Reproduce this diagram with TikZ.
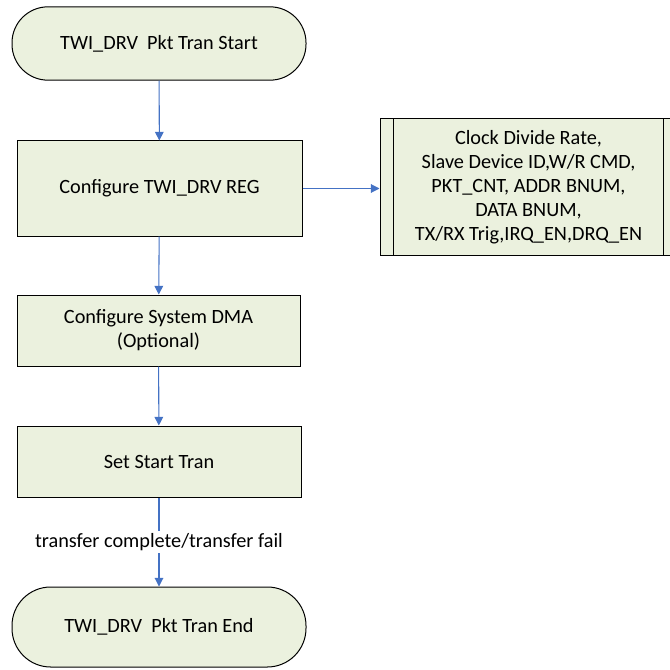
\documentclass[tikz,border=0pt]{standalone}
\usepackage{fontspec}
\setmainfont{Carlito}
\usetikzlibrary{arrows.meta}
\definecolor{boxfill}{HTML}{EBF1DE}
\definecolor{flowblue}{HTML}{4472C4}

\begin{document}
\begin{tikzpicture}[x=0.75pt, y=-0.75pt,
  every node/.style={font=\fontsize{15.2}{18}\selectfont},
  termbox/.style={draw, fill=boxfill, line width=0.75pt, minimum width=220.5pt},
  procbox/.style={draw, fill=boxfill, line width=0.75pt, align=center, inner sep=0pt},
  flowarrow/.style={flowblue, line width=0.8pt, -{Triangle[width=6.5pt,length=6.5pt]}}]
  \useasboundingbox (0,0) rectangle (670,670);
  % main column
  \node[termbox, rounded corners=27pt, minimum height=55pt] (start) at (159,43.5) {TWI\_DRV\ \ Pkt Tran Start};
  \node[procbox, minimum width=213.75pt, minimum height=71.25pt] (reg) at (159.5,188.5) {Configure TWI\_DRV REG};
  \node[procbox, minimum width=212.25pt, minimum height=53.25pt] (dma) at (158.5,330.5) {Configure System DMA\\(Optional)};
  \node[procbox, minimum width=213pt, minimum height=53.25pt] (settran) at (159,461.5) {Set Start Tran};
  \node[termbox, rounded corners=29pt, minimum height=60pt] (stop) at (159,627) {TWI\_DRV\ \ Pkt Tran End};
  % register list (predefined process)
  \node[procbox, minimum width=222.75pt, minimum height=102pt] (params) at (528.5,187)
    {Clock Divide Rate,\\Slave Device ID,W/R CMD,\\PKT\_CNT, ADDR BNUM,\\DATA BNUM,\\TX/RX Trig,IRQ\_EN,DRQ\_EN};
  \draw[line width=0.75pt] ([xshift=10.5pt]params.north west) -- ([xshift=10.5pt]params.south west);
  \draw[line width=0.75pt] ([xshift=-10.5pt]params.north east) -- ([xshift=-10.5pt]params.south east);
  % connectors
  \draw[flowarrow] (start) -- (reg);
  \draw[flowarrow] (reg.east) -- (reg.east -| params.west);
  \draw[flowarrow] (reg) -- (dma);
  \draw[flowarrow] (dma) -- (settran);
  \draw[flowarrow] (settran) -- node[fill=white, inner sep=2pt, text=black] {transfer complete/transfer fail} (stop);
\end{tikzpicture}
\end{document}
